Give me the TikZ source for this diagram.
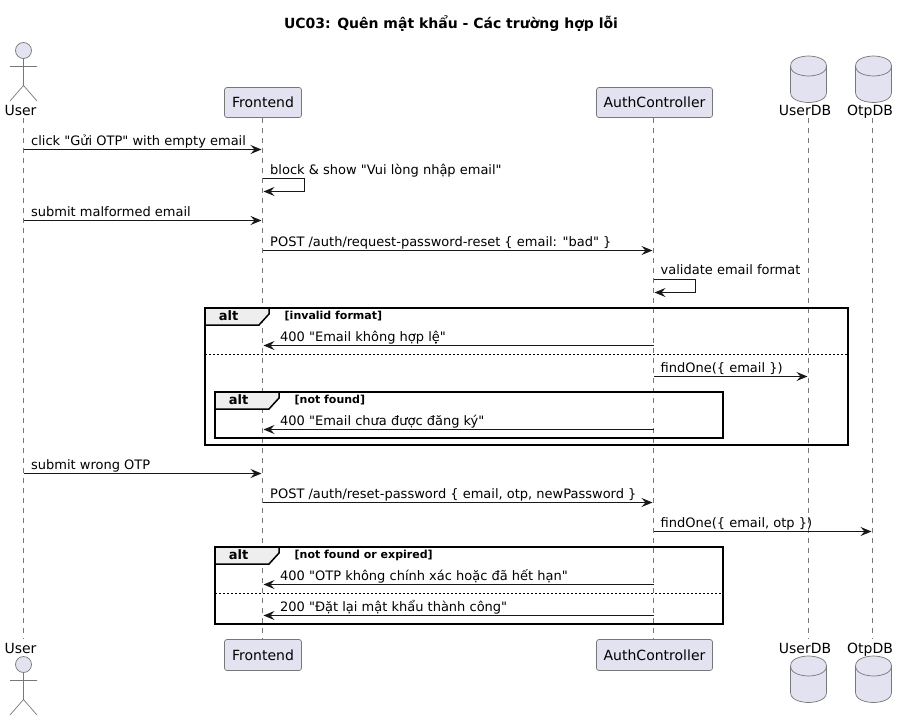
\documentclass[tikz,border=0pt]{standalone}
\usepackage{fontspec}
\setmainfont{DejaVu Sans}[Ligatures=TeXOff]
\usepackage{tikz}
\usetikzlibrary{arrows.meta, positioning}
\definecolor{partfill}{HTML}{E2E2F0}
\definecolor{partline}{HTML}{181818}
\definecolor{weakline}{HTML}{777777}
\definecolor{tabfill}{HTML}{EEEEEE}
\tikzset{%
   lifeline/.style={
      draw=weakline,
      line width=.6pt,
      dash pattern=on 5pt off 5pt
   },
   part/.style={
      draw=weakline,
      fill=partfill,
      line width=.7pt,
      rounded corners=2.5pt,
      inner sep=0pt,
      minimum height=30pt,
      font=\fontsize{14}{16}\selectfont
   },
   partlabel/.style={
      inner sep=0pt,
      anchor=base,
      font=\fontsize{14}{16}\selectfont
   },
   msg/.style={
      draw=partline,
      line width=1pt,
      -{Stealth[length=11pt, width=9pt, inset=4pt]}
   },
   msgtext/.style={
      inner sep=0pt,
      anchor=base west,
      font=\fontsize{13}{15}\selectfont
   },
   altframe/.style={
      draw=black,
      line width=1.6pt
   },
   alttab/.style={
      draw=black,
      fill=tabfill,
      line width=1.5pt
   },
   altsep/.style={
      draw=black,
      line width=.8pt,
      dash pattern=on 2pt off 2pt
   },
   altname/.style={
      inner sep=0pt,
      anchor=base,
      font=\bfseries\fontsize{13}{15}\selectfont
   },
   altcond/.style={
      inner sep=0pt,
      anchor=base west,
      font=\bfseries\fontsize{11}{13}\selectfont
   },
   actorman/.pic={
      \draw[draw=weakline, fill=partfill, line width=.7pt] (0,0) circle (8pt);
      \draw[draw=weakline, line width=.7pt] (0,8) -- (0,35) (-13.5,16) -- (13.5,16)
         (-13.5,50.5) -- (0,35) -- (13.5,50.5);
   },
   dbdrum/.pic={
      \draw[draw=weakline, fill=partfill, line width=.7pt] (-18,10)
         .. controls (-18,0) and (0,0) .. (0,0) .. controls (0,0) and (18,0) .. (18,10)
         -- (18,36.5) .. controls (18,46.5) and (0,46.5) .. (0,46.5)
         .. controls (0,46.5) and (-18,46.5) .. (-18,36.5) -- cycle;
      \draw[draw=weakline, line width=.7pt] (-18,10)
         .. controls (-18,20) and (0,20) .. (0,20) .. controls (0,20) and (18,20) .. (18,10);
   }
}
\begin{document}
\begin{tikzpicture}[x=1pt, y=-1pt]
   \useasboundingbox (0,0) rectangle (907,720);
   \node[inner sep=0pt, anchor=base, font=\bfseries\fontsize{14}{16}\selectfont] (title) at (451,28) {UC03: Quên mật khẩu - Các trường hợp lỗi};
   % top and bottom of each lane
   \node[part, minimum width=77pt] (Frontend) at (263,102.5) {Frontend};
   \node[part, minimum width=116pt] (Auth) at (654.5,102.5) {AuthController};
   \node[part, minimum width=77pt, minimum height=31pt] (Frontend2) at (263,655) {Frontend};
   \node[part, minimum width=116pt, minimum height=31pt] (Auth2) at (654.5,655) {AuthController};
   \pic at (808.5,56) {dbdrum};
   \pic at (873.5,56) {dbdrum};
   \pic at (808.5,656) {dbdrum};
   \pic at (873.5,656) {dbdrum};
   \node[partlabel] (UserLbl) at (20.5,115) {User};
   \node[partlabel] (UserDBLbl) at (805,115) {UserDB};
   \node[partlabel] (OtpDBLbl) at (870,115) {OtpDB};
   \node[partlabel] (UserLbl2) at (20.5,653) {User};
   \node[partlabel] (UserDBLbl2) at (805,653) {UserDB};
   \node[partlabel] (OtpDBLbl2) at (870,653) {OtpDB};
   \pic at (23.5,50.5) {actorman};
   \pic at (23.5,664.5) {actorman};
   \coordinate (u0) at (23.5,118);
   \coordinate (u9) at (23.5,639);
   \coordinate (f0) at (262.5,118);
   \coordinate (f9) at (262.5,639);
   \coordinate (a0) at (653.5,118);
   \coordinate (a9) at (653.5,639);
   \coordinate (d0) at (808.5,118);
   \coordinate (d9) at (808.5,639);
   \coordinate (o0) at (872.5,118);
   \coordinate (o9) at (872.5,639);
   \draw[lifeline] (u0) -- (u9);
   \draw[lifeline] (f0) -- (f9);
   \draw[lifeline] (a0) -- (a9);
   \draw[lifeline] (d0) -- (d9);
   \draw[lifeline] (o0) -- (o9);
   % alt frames
   \draw[altframe] (205,308) rectangle (848,445);
   \draw[alttab] (205,308) -- (269,308) -- (269,314) -- (259,325) -- (205,325) -- cycle;
   \node[altname] (alt1) at (228.5,320) {alt};
   \node[altcond] (cond1) at (284.5,319) {[invalid format]};
   \draw[altsep] (205,354.5) -- (848,354.5);
   \draw[altframe] (215,392) rectangle (723,438);
   \draw[alttab] (215,392) -- (279,392) -- (279,398) -- (269,409) -- (215,409) -- cycle;
   \node[altname] (alt2) at (238.5,404) {alt};
   \node[altcond] (cond2) at (294.5,403) {[not found]};
   \draw[altframe] (215,547) rectangle (723,624);
   \draw[alttab] (215,547) -- (279,547) -- (279,553) -- (269,564) -- (215,564) -- cycle;
   \node[altname] (alt3) at (238.5,559) {alt};
   \node[altcond] (cond3) at (294.5,558.5) {[not found or expired]};
   \draw[altsep] (215,593.5) -- (723,593.5);
   % messages
   \coordinate (m1a) at (23.5,149.5);
   \coordinate (m1b) at (261.5,149.5);
   \draw[msg] (m1a) -- (m1b);
   \node[msgtext] (t1) at (31,145) {click "Gửi OTP" with empty email};
   \coordinate (m2a) at (262.5,178.5);
   \coordinate (m2b) at (263.5,191.5);
   \draw[msg] (m2a) -- ++(42,0) |- (m2b);
   \node[msgtext] (t2) at (270,174) {block \& show "Vui lòng nhập email"};
   \coordinate (m3a) at (23.5,220.5);
   \coordinate (m3b) at (261.5,220.5);
   \draw[msg] (m3a) -- (m3b);
   \node[msgtext] (t3) at (31,216) {submit malformed email};
   \coordinate (m4a) at (262.5,250.5);
   \coordinate (m4b) at (652.5,250.5);
   \draw[msg] (m4a) -- (m4b);
   \node[msgtext] (t4) at (270,246) {POST /auth/request-password-reset \{ email: "bad" \}};
   \coordinate (m5a) at (653.5,279.5);
   \coordinate (m5b) at (654.5,292.5);
   \draw[msg] (m5a) -- ++(42,0) |- (m5b);
   \node[msgtext] (t5) at (660.5,274.5) {validate email format};
   \coordinate (m6a) at (653.5,345.5);
   \coordinate (m6b) at (263.5,345.5);
   \draw[msg] (m6a) -- (m6b);
   \node[msgtext] (t6) at (280,341) {400 "Email không hợp lệ"};
   \coordinate (m7a) at (653.5,376.5);
   \coordinate (m7b) at (807.5,376.5);
   \draw[msg] (m7a) -- (m7b);
   \node[msgtext] (t7) at (660.5,372.5) {findOne(\{ email \})};
   \coordinate (m8a) at (653.5,429.5);
   \coordinate (m8b) at (263.5,429.5);
   \draw[msg] (m8a) -- (m8b);
   \node[msgtext] (t8) at (280,425) {400 "Email chưa được đăng ký"};
   \coordinate (m9a) at (23.5,473.5);
   \coordinate (m9b) at (261.5,473.5);
   \draw[msg] (m9a) -- (m9b);
   \node[msgtext] (t9) at (31,469) {submit wrong OTP};
   \coordinate (m10a) at (262.5,502.5);
   \coordinate (m10b) at (652.5,502.5);
   \draw[msg] (m10a) -- (m10b);
   \node[msgtext] (t10) at (270,498) {POST /auth/reset-password \{ email, otp, newPassword \}};
   \coordinate (m11a) at (653.5,531.5);
   \coordinate (m11b) at (871.5,531.5);
   \draw[msg] (m11a) -- (m11b);
   \node[msgtext] (t11) at (660.5,527) {findOne(\{ email, otp \})};
   \coordinate (m12a) at (653.5,584.5);
   \coordinate (m12b) at (263.5,584.5);
   \draw[msg] (m12a) -- (m12b);
   \node[msgtext] (t12) at (280,580) {400 "OTP không chính xác hoặc đã hết hạn"};
   \coordinate (m13a) at (653.5,615.5);
   \coordinate (m13b) at (263.5,615.5);
   \draw[msg] (m13a) -- (m13b);
   \node[msgtext] (t13) at (280,611) {200 "Đặt lại mật khẩu thành công"};
\end{tikzpicture}
\end{document}
